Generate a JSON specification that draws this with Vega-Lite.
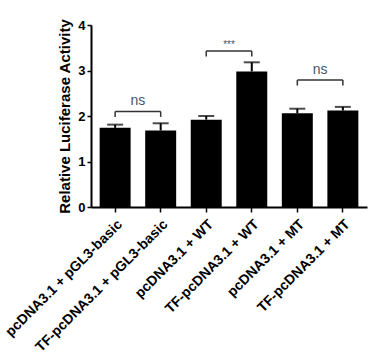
{
  "$schema": "https://vega.github.io/schema/vega-lite/v6.json",
  "autosize": "none",
  "width": 276,
  "height": 182,
  "padding": {"left": 91, "top": 25, "right": 8, "bottom": 149},
  "background": "white",
  "config": {
    "view": {"stroke": null},
    "font": "Liberation Sans",
    "axis": {"grid": false, "domainColor": "black", "tickColor": "black", "labelColor": "black", "titleColor": "black"}
  },
  "datasets": {
    "bars": [
      {"group": "pcDNA3.1 + pGL3-basic", "value": 1.74, "upper": 1.81},
      {"group": "TF-pcDNA3.1 + pGL3-basic", "value": 1.68, "upper": 1.84},
      {"group": "pcDNA3.1 + WT", "value": 1.92, "upper": 2.0},
      {"group": "TF-pcDNA3.1 + WT", "value": 2.98, "upper": 3.18},
      {"group": "pcDNA3.1 + MT", "value": 2.06, "upper": 2.16},
      {"group": "TF-pcDNA3.1 + MT", "value": 2.12, "upper": 2.2}
    ],
    "brackets": [
      {"from": "pcDNA3.1 + pGL3-basic", "to": "TF-pcDNA3.1 + pGL3-basic", "y": 2.1, "label": "ns", "ly": 2.33},
      {"from": "pcDNA3.1 + MT", "to": "TF-pcDNA3.1 + MT", "y": 2.79, "label": "ns", "ly": 3.02}
    ],
    "stars": [
      {"from": "pcDNA3.1 + WT", "to": "TF-pcDNA3.1 + WT", "y": 3.43, "label": "***", "ly": 3.56}
    ],
    "ends": [
      {"group": "pcDNA3.1 + pGL3-basic", "y": 2.1, "y2": 1.98},
      {"group": "TF-pcDNA3.1 + pGL3-basic", "y": 2.1, "y2": 1.98},
      {"group": "pcDNA3.1 + WT", "y": 3.43, "y2": 3.31},
      {"group": "TF-pcDNA3.1 + WT", "y": 3.43, "y2": 3.31},
      {"group": "pcDNA3.1 + MT", "y": 2.79, "y2": 2.67},
      {"group": "TF-pcDNA3.1 + MT", "y": 2.79, "y2": 2.67}
    ]
  },
  "resolve": {"scale": {"x": "shared", "y": "shared"}},
  "layer": [
    {
      "data": {"name": "bars"},
      "mark": {"type": "rule", "color": "black", "strokeWidth": 2},
      "encoding": {
        "x": {"field": "group", "type": "nominal", "sort": null},
        "y": {"field": "value", "type": "quantitative"},
        "y2": {"field": "upper"}
      }
    },
    {
      "data": {"name": "bars"},
      "mark": {"type": "tick", "color": "black", "size": 16, "thickness": 2},
      "encoding": {
        "x": {"field": "group", "type": "nominal", "sort": null},
        "y": {"field": "upper", "type": "quantitative"}
      }
    },
    {
      "data": {"name": "bars"},
      "mark": {"type": "bar", "color": "black"},
      "encoding": {
        "x": {
          "field": "group", "type": "nominal", "sort": null,
          "scale": {"paddingInner": 0.32, "paddingOuter": 0.19},
          "axis": {
            "title": null, "labelAngle": -45, "labelAlign": "right", "labelBaseline": "top",
            "labelFont": "Liberation Sans", "labelFontWeight": "bold", "labelFontSize": 14,
            "labelPadding": 5, "tickSize": 5, "tickWidth": 1.5, "domainWidth": 2, "labelLimit": 300
          }
        },
        "y": {
          "field": "value", "type": "quantitative",
          "scale": {"domain": [0, 4], "nice": false},
          "axis": {
            "title": "Relative Luciferase Activity", "values": [0, 1, 2, 3, 4],
            "titleFont": "Liberation Sans", "titleFontSize": 15, "titleFontWeight": "bold",
            "titlePadding": 5,
            "labelFont": "Liberation Sans", "labelFontSize": 13, "labelFontWeight": "bold",
            "tickSize": 4, "tickWidth": 1.5, "domainWidth": 2, "labelPadding": 2
          }
        }
      }
    },
    {
      "data": {"name": "brackets"},
      "mark": {"type": "rule", "color": "#333333", "strokeWidth": 1.5},
      "encoding": {
        "x": {"field": "from", "type": "nominal", "sort": null},
        "x2": {"field": "to"},
        "y": {"field": "y", "type": "quantitative"}
      }
    },
    {
      "data": {"name": "stars"},
      "mark": {"type": "rule", "color": "#333333", "strokeWidth": 1.5},
      "encoding": {
        "x": {"field": "from", "type": "nominal", "sort": null},
        "x2": {"field": "to"},
        "y": {"field": "y", "type": "quantitative"}
      }
    },
    {
      "data": {"name": "ends"},
      "mark": {"type": "rule", "color": "#333333", "strokeWidth": 1.5},
      "encoding": {
        "x": {"field": "group", "type": "nominal", "sort": null},
        "y": {"field": "y", "type": "quantitative"},
        "y2": {"field": "y2"}
      }
    },
    {
      "data": {"name": "brackets"},
      "mark": {"type": "text", "color": "#4a5468", "fontSize": 14, "font": "Liberation Sans", "xOffset": 22.8},
      "encoding": {
        "x": {"field": "from", "type": "nominal", "sort": null},
        "y": {"field": "ly", "type": "quantitative"},
        "text": {"field": "label"}
      }
    },
    {
      "data": {"name": "stars"},
      "mark": {"type": "text", "color": "#4a5468", "fontSize": 10, "font": "Liberation Sans", "xOffset": 22.8},
      "encoding": {
        "x": {"field": "from", "type": "nominal", "sort": null},
        "y": {"field": "ly", "type": "quantitative"},
        "text": {"field": "label"}
      }
    }
  ]
}
